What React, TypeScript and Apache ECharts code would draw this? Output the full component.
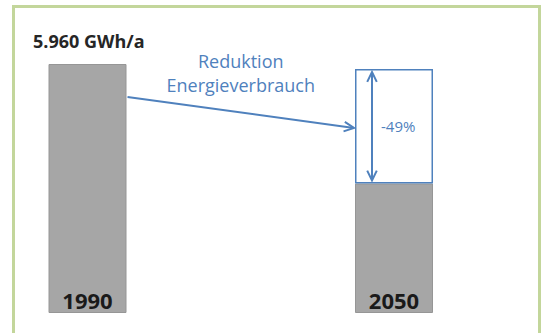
import React, { useEffect, useRef } from "react";
import * as echarts from "echarts";

const categories = ["1990", "2050"];
const consumption = [5960, 3100];
const reductionBox = [null, 2740];
const totalLabel = "5.960 GWh/a";
const arrowLabel = ["Reduktion", "Energieverbrauch"];
const reductionLabel = "-49%";

export default function App() {
  const ref = useRef<HTMLDivElement>(null);
  useEffect(() => {
    const chart = echarts.init(ref.current!, null, { renderer: "svg" });
    const blue = "#4f81bd";
    const font = "'Open Sans', sans-serif";
    chart.setOption({
      animation: false,
      backgroundColor: "#ffffff",
      grid: { left: 87.5, right: 148, top: 64, bottom: 20 },
      xAxis: { type: "category", data: categories, boundaryGap: false, show: false },
      yAxis: { type: "value", min: 0, max: 5960, show: false },
      series: [
        {
          type: "bar",
          stack: "a",
          data: consumption,
          barWidth: 78,
          clip: false,
          itemStyle: { color: "#a6a6a6", borderColor: "#969696", borderWidth: 1 },
          label: {
            show: true,
            position: "insideBottom",
            distance: 2,
            formatter: "{b}",
            color: "#1a1a1a",
            fontFamily: font,
            fontWeight: "bold",
            fontSize: 22,
          },
        },
        {
          type: "bar",
          stack: "a",
          data: reductionBox,
          barWidth: 78,
          clip: false,
          itemStyle: { color: "#ffffff", borderColor: blue, borderWidth: 1.5 },
        },
      ],
    });

    const p = (c: string, v: number) => chart.convertToPixel({ gridIndex: 0 }, [c, v]) as number[];
    const top1990 = p(categories[0], consumption[0]);
    const gray2050 = p(categories[1], consumption[1]);
    const box2050 = p(categories[1], consumption[1] + (reductionBox[1] as number));
    const half = 39;

    const sx = top1990[0] + half + 1;
    const sy = top1990[1] + 33;
    const ex = gray2050[0] - half - 1;
    const ey = top1990[1] + 64;
    const ang = Math.atan2(ey - sy, ex - sx);
    const hl = 11;
    const head = (x: number, y: number, a: number) => [
      [x - hl * Math.cos(a - 0.45), y - hl * Math.sin(a - 0.45)],
      [x, y],
      [x - hl * Math.cos(a + 0.45), y - hl * Math.sin(a + 0.45)],
    ];

    const ax = gray2050[0] - 22;
    const ay1 = box2050[1] + 3;
    const ay2 = gray2050[1] - 3;
    const midY = (box2050[1] + gray2050[1]) / 2;
    const lineStyle = { stroke: blue, lineWidth: 2, fill: "none" };

    chart.setOption({
      graphic: [
        {
          type: "rect",
          z: 100,
          shape: { x: 13.5, y: 6.5, width: 526, height: 400 },
          style: { stroke: "#c3d69b", lineWidth: 3, fill: "none" },
          silent: true,
        },
        {
          type: "text",
          z: 100,
          x: 33,
          y: 41,
          style: {
            text: totalLabel,
            fill: "#262626",
            font: `bold 18px ${font}`,
            align: "left",
            verticalAlign: "middle",
          },
        },
        {
          type: "text",
          z: 100,
          x: (sx + ex) / 2,
          y: 61,
          style: { text: arrowLabel[0], fill: blue, font: `18px ${font}`, align: "center", verticalAlign: "middle" },
        },
        {
          type: "text",
          z: 100,
          x: (sx + ex) / 2,
          y: 85,
          style: { text: arrowLabel[1], fill: blue, font: `18px ${font}`, align: "center", verticalAlign: "middle" },
        },
        { type: "line", z: 100, shape: { x1: sx, y1: sy, x2: ex, y2: ey }, style: lineStyle },
        { type: "polyline", z: 100, shape: { points: head(ex, ey, ang) }, style: lineStyle },
        { type: "line", z: 100, shape: { x1: ax, y1: ay1, x2: ax, y2: ay2 }, style: lineStyle },
        { type: "polyline", z: 100, shape: { points: head(ax, ay1, -Math.PI / 2) }, style: lineStyle },
        { type: "polyline", z: 100, shape: { points: head(ax, ay2, Math.PI / 2) }, style: lineStyle },
        {
          type: "text",
          z: 100,
          x: ax + 9,
          y: midY,
          style: { text: reductionLabel, fill: blue, font: `15px ${font}`, align: "left", verticalAlign: "middle" },
        },
      ],
    });
    return () => chart.dispose();
  }, []);
  return (
    <div
      ref={ref}
      style={{ position: "absolute", left: 0, top: 0, width: 542, height: 333, background: "#fff" }}
    />
  );
}
